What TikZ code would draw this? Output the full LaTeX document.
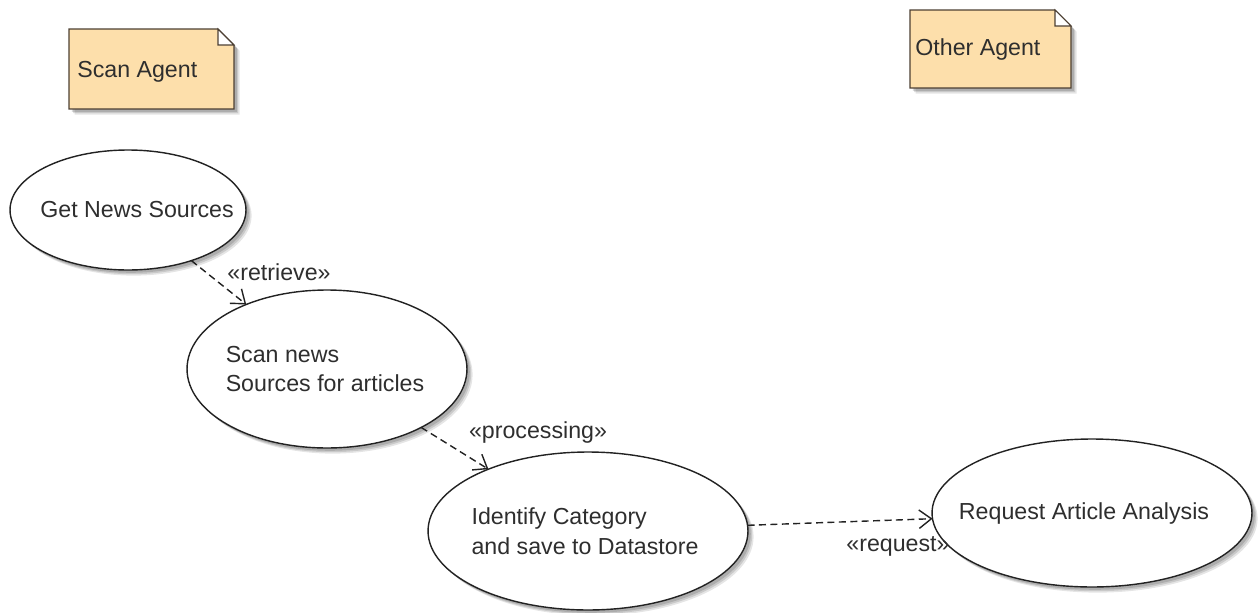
\documentclass[tikz,border=0pt]{standalone}
\usepackage{fontspec}
\setmainfont{Liberation Sans}
\usetikzlibrary{shapes.geometric,arrows.meta,shadows}

\definecolor{notefill}{HTML}{FDDFAB}
\definecolor{noteline}{HTML}{4D4033}
\definecolor{inkline}{HTML}{222222}
\definecolor{inktext}{HTML}{2E2E2E}

\tikzset{
  uml/.style={font=\fontsize{13.2}{17}\selectfont, text=inktext},
  % layered grey shadows give a soft edge
  softshadow/.style={
    general shadow={shadow xshift=3.2pt, shadow yshift=-3.2pt, fill=black, opacity=0.10},
    general shadow={shadow xshift=2.4pt, shadow yshift=-2.4pt, fill=black, opacity=0.12},
    general shadow={shadow xshift=1.6pt, shadow yshift=-1.6pt, fill=black, opacity=0.14}},
  usecase/.style={ellipse, draw=inkline, line width=0.8pt, fill=white,
      softshadow, inner sep=0pt, outer sep=0pt},
  casetext/.style={uml, align=left, inner sep=0pt},
  notebody/.style={draw=noteline, line width=0.8pt, fill=notefill, softshadow},
  notefold/.style={draw=noteline, line width=0.6pt, fill=white},
  notetext/.style={uml, anchor=west, inner sep=0pt},
  depend/.style={draw=inkline, line width=0.8pt, dash pattern=on 4pt off 2.5pt,
      -{Straight Barb[length=7pt,width=10.5pt]}},
  stereo/.style={uml, inner sep=0pt},
}

\begin{document}
\begin{tikzpicture}[x=0.02cm, y=-0.02cm]
  \useasboundingbox (0,0) rectangle (1260,612);

  % notes: rectangle with a folded top-right corner
  \node (scanbox) [minimum width=3.3cm, minimum height=1.6cm, inner sep=0pt, outer sep=0pt] at (151.5,69) {};
  \path[notebody] (scanbox.south west) -- (scanbox.north west)
     -- ([xshift=-0.32cm]scanbox.north east) -- ([yshift=-0.32cm]scanbox.north east)
     -- (scanbox.south east) -- cycle;
  \path[notefold] ([xshift=-0.32cm]scanbox.north east) -- ([xshift=-0.32cm,yshift=-0.32cm]scanbox.north east)
     -- ([yshift=-0.32cm]scanbox.north east) -- cycle;
  \node (scantext) [notetext] at (77,72) {Scan Agent};

  \node (otherbox) [minimum width=3.22cm, minimum height=1.56cm, inner sep=0pt, outer sep=0pt] at (990.5,49) {};
  \path[notebody] (otherbox.south west) -- (otherbox.north west)
     -- ([xshift=-0.32cm]otherbox.north east) -- ([yshift=-0.32cm]otherbox.north east)
     -- (otherbox.south east) -- cycle;
  \path[notefold] ([xshift=-0.32cm]otherbox.north east) -- ([xshift=-0.32cm,yshift=-0.32cm]otherbox.north east)
     -- ([yshift=-0.32cm]otherbox.north east) -- cycle;
  \node (othertext) [notetext] at (915,50) {Other Agent};

  % use cases (the text sits at the centre as a label so the ellipse keeps its size)
  \node (gns) [usecase, minimum width=4.72cm, minimum height=2.4cm,
     label={[casetext, xshift=0.18cm]center:Get News Sources}] at (128,210) {};
  \node (scan) [usecase, minimum width=5.6cm, minimum height=3.16cm,
     label={[casetext, xshift=-0.04cm]center:Scan news\\Sources for articles}] at (327,369) {};
  \node (ident) [usecase, minimum width=6.4cm, minimum height=3.16cm,
     label={[casetext, xshift=-0.06cm]center:Identify Category\\and save to Datastore}] at (588,531) {};
  \node (req) [usecase, minimum width=6.4cm, minimum height=2.96cm,
     label={[casetext, xshift=-0.16cm]center:Request Article Analysis}] at (1092,513) {};

  % dependencies
  \draw[depend] (gns) -- (scan);
  \draw[depend] (scan) -- (ident);
  \draw[depend] (ident) -- (req);

  \node (lretrieve) [stereo] at (279,272) {«retrieve»};
  \node (lprocessing) [stereo] at (538,432) {«processing»};
  \node (lrequest) [stereo] at (898,546) {«request»};
\end{tikzpicture}
\end{document}
